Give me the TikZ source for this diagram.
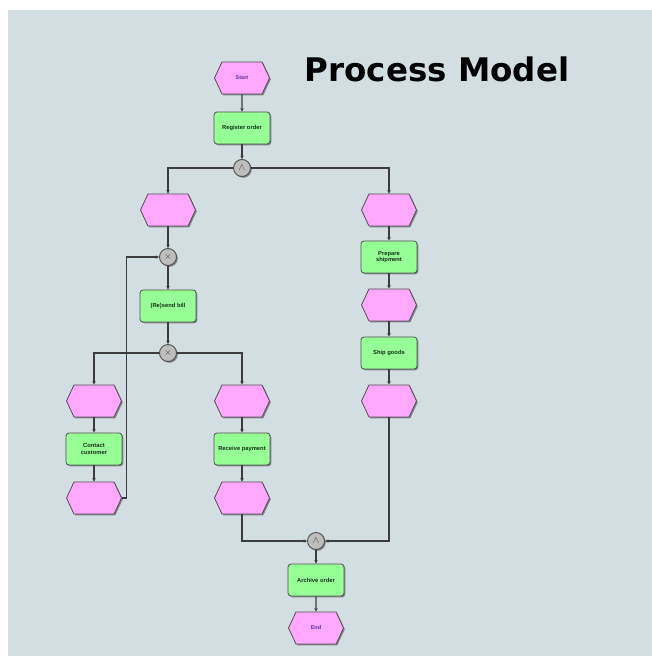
\documentclass[tikz,border=0pt]{standalone}
\usepackage{fontspec}
\setmainfont{Liberation Sans}
\newfontfamily\titlefont{DejaVu Sans}
\usetikzlibrary{arrows.meta,shapes.symbols,shadows}
\definecolor{panelbg}{RGB}{211,222,227}
\definecolor{eventpink}{RGB}{255,168,255}
\definecolor{funcgreen}{RGB}{150,255,150}
\definecolor{conngray}{RGB}{190,190,190}
\definecolor{edgegray}{RGB}{80,80,80}
\definecolor{linegray}{RGB}{60,60,60}
\definecolor{eventtext}{RGB}{90,50,170}
\definecolor{functext}{RGB}{20,50,20}
\tikzset{
    >={Stealth[length=3.5pt,width=3.4pt]},
    flow/.style={draw=linegray,line width=1.1pt,->},
    softshadow/.style={drop shadow={shadow xshift=1.3pt,shadow yshift=-1.3pt,fill=black,opacity=0.4}},
    event/.style={signal,signal to=west and east,signal pointer angle=130,
        draw=edgegray,line width=0.8pt,fill=eventpink,softshadow,
        minimum width=55pt,minimum height=32pt,inner sep=0pt,
        font=\bfseries\fontsize{5.5}{6}\selectfont,text=eventtext},
    func/.style={rectangle,rounded corners=3pt,draw=edgegray,line width=0.8pt,
        fill=funcgreen,softshadow,minimum width=56pt,minimum height=32pt,
        inner sep=1pt,align=center,
        font=\bfseries\fontsize{5.8}{6.5}\selectfont,text=functext},
    conn/.style={circle,draw=edgegray,line width=0.9pt,fill=conngray,softshadow,
        minimum size=17pt,inner sep=0pt,font=\fontsize{10}{10}\selectfont,text=linegray}
}
\begin{document}
\begin{tikzpicture}[x=1pt,y=-1pt]
    \useasboundingbox (0,0) rectangle (652,656);
    \fill[panelbg] (8,10) rectangle (652,656);

    \node[font=\titlefont\bfseries\fontsize{32.5}{38}\selectfont,anchor=base] (title) at (437,81) {Process Model};

    % main line
    \node[event] (start) at (242,78) {Start};
    \node[func] (register) at (242,128) {Register order};
    \node[conn] (and1) at (242,168) {$\wedge$};

    % billing branch
    \node[event] (evbill) at (168,210) {};
    \node[conn] (xor1) at (168,257) {$\times$};
    \node[func] (resend) at (168,306) {(Re)send bill};
    \node[conn] (xor2) at (168,353) {$\times$};
    \node[event] (evlate) at (94,401) {};
    \node[func] (contact) at (94,449) {Contact\\customer};
    \node[event] (evcontacted) at (94,498) {};
    \node[event] (evpaid) at (242,401) {};
    \node[func] (receive) at (242,449) {Receive payment};
    \node[event] (evreceived) at (242,498) {};

    % shipping branch
    \node[event] (evship) at (389,210) {};
    \node[func] (prepare) at (389,257) {Prepare\\shipment};
    \node[event] (evprepared) at (389,305) {};
    \node[func] (ship) at (389,353) {Ship goods};
    \node[event] (evshipped) at (389,401) {};

    % join and finish
    \node[conn] (and2) at (316,541) {$\wedge$};
    \node[func] (archive) at (316,580) {Archive order};
    \node[event] (end) at (316,628) {End};

    \draw[flow] (start) -- (register);
    \draw[flow] (register) -- (and1);
    \draw[flow] (and1) -| (evbill);
    \draw[flow] (and1) -| (evship);
    \draw[flow] (evbill) -- (xor1);
    \draw[flow] (xor1) -- (resend);
    \draw[flow] (resend) -- (xor2);
    \draw[flow] (xor2) -| (evlate);
    \draw[flow] (xor2) -| (evpaid);
    \draw[flow] (evlate) -- (contact);
    \draw[flow] (contact) -- (evcontacted);
    \draw[flow] (evcontacted.east) -- ++(5,0) |- (xor1);
    \draw[flow] (evpaid) -- (receive);
    \draw[flow] (receive) -- (evreceived);
    \draw[flow] (evreceived) |- (and2);
    \draw[flow] (evship) -- (prepare);
    \draw[flow] (prepare) -- (evprepared);
    \draw[flow] (evprepared) -- (ship);
    \draw[flow] (ship) -- (evshipped);
    \draw[flow] (evshipped) |- (and2);
    \draw[flow] (and2) -- (archive);
    \draw[flow] (archive) -- (end);
\end{tikzpicture}
\end{document}
